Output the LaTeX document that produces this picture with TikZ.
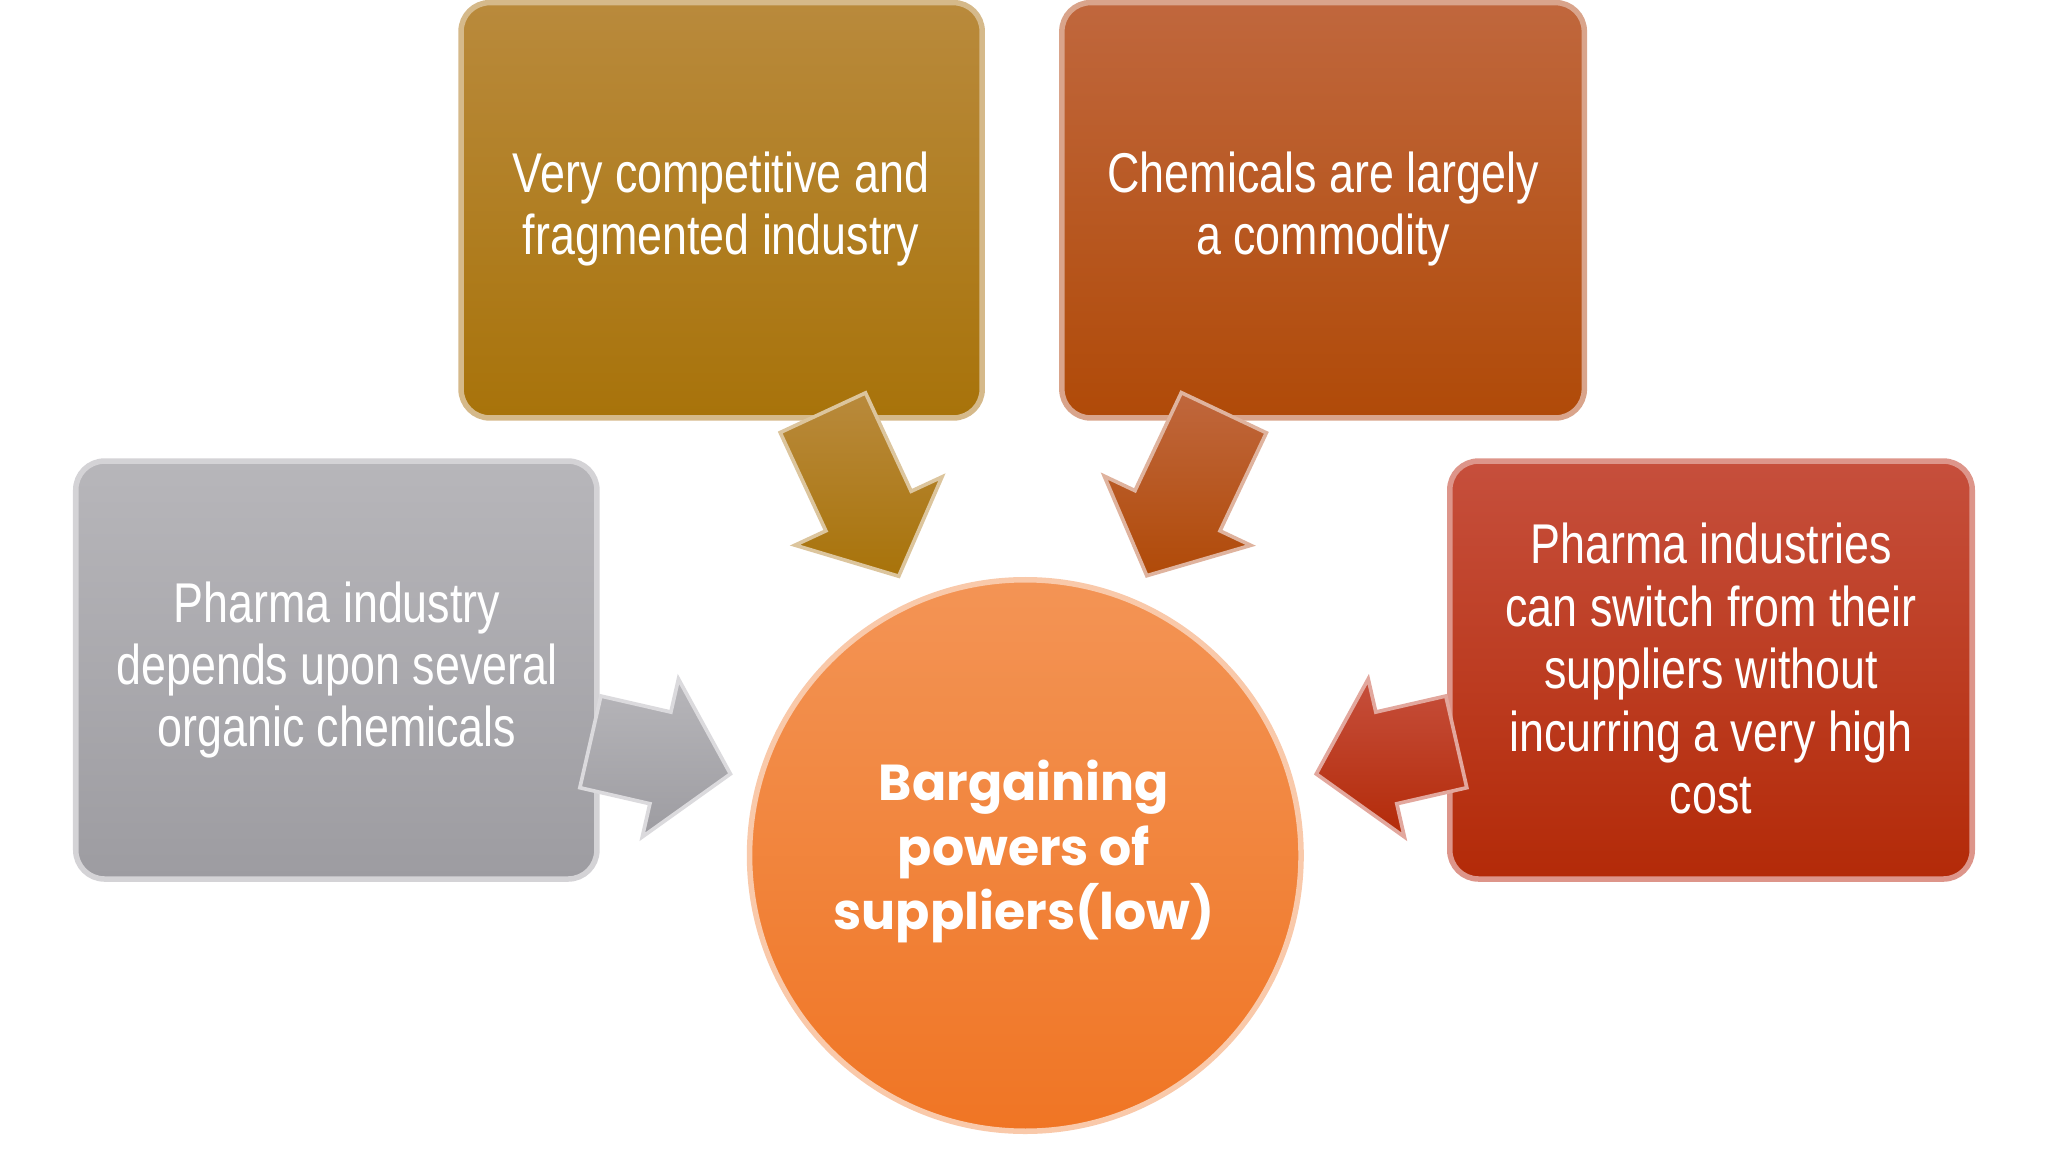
\documentclass[tikz,border=0pt]{standalone}
\usepackage{fontspec}
\setmainfont{Liberation Sans}
\newfontfamily\boxfont{Liberation Sans}[FakeStretch=0.80]
\newfontfamily\circfont{Poppins Bold}
\begin{document}
\begin{tikzpicture}[x=0.01cm,y=-0.01cm,
  box/.style={rounded corners=0.22cm,line width=1.2pt},
  btxt/.style={text=white,align=center,font=\boxfont\fontsize{12.2pt}{13.6pt}\selectfont},
  arr/.style={line width=0.8pt}]
\useasboundingbox (0,0) rectangle (1568,882);
\definecolor{gA}{HTML}{B7B6BA}\definecolor{gB}{HTML}{9D9CA1}
\definecolor{yA}{HTML}{B98A3C}\definecolor{yB}{HTML}{A8730A}
\definecolor{oA}{HTML}{C0673D}\definecolor{oB}{HTML}{B04A08}
\definecolor{rA}{HTML}{C64F3C}\definecolor{rB}{HTML}{B32A08}
\definecolor{cA}{HTML}{F39455}\definecolor{cB}{HTML}{F07524}
% boxes
\shade[box,top color=gA,bottom color=gB,draw=gA!60!white] (58,353) rectangle (457,673);
\shade[box,top color=yA,bottom color=yB,draw=yA!60!white] (353,2) rectangle (752,320);
\shade[box,top color=oA,bottom color=oB,draw=oA!60!white] (813,2) rectangle (1213,320);
\shade[box,top color=rA,bottom color=rB,draw=rA!60!white] (1110,353) rectangle (1510,673);
% arrows
\newcommand{\blockarrow}[5]{%
  \shade[arr,shift={#1},rotate=#2,top color=#4,bottom color=#5,draw=#4!50!white]
   (0,-36) -- (#3-55,-36) -- (#3-55,-62) -- (#3,0) -- (#3-55,62) -- (#3-55,36) -- (0,36) -- cycle;}
\blockarrow{(630,316)}{-65.1}{138}{yA}{yB}
\blockarrow{(937,316)}{-115.3}{138}{oA}{oB}
\blockarrow{(452,568)}{-12.9}{110}{gA}{gB}
\blockarrow{(1115,568)}{-167.1}{110}{rA}{rB}
% circle
\shade[top color=cA,bottom color=cB,draw=cA!50!white,line width=1.2pt] (785,655) circle[radius=2.11cm];
% texts
\node[btxt] (g) at (258,513) {Pharma industry\\depends upon several\\organic chemicals};
\node[btxt] (y) at (552,160) {Very competitive and\\fragmented industry};
\node[btxt] (o) at (1013,160) {Chemicals are largely\\a commodity};
\node[btxt] (r) at (1310,512) {Pharma industries\\can switch from their\\suppliers without\\incurring a very high\\cost};
\node[text=white,align=center,font=\circfont\fontsize{11pt}{14pt}\selectfont] (c) at (784,652) {Bargaining\\powers of\\suppliers(low)};
\end{tikzpicture}
\end{document}
